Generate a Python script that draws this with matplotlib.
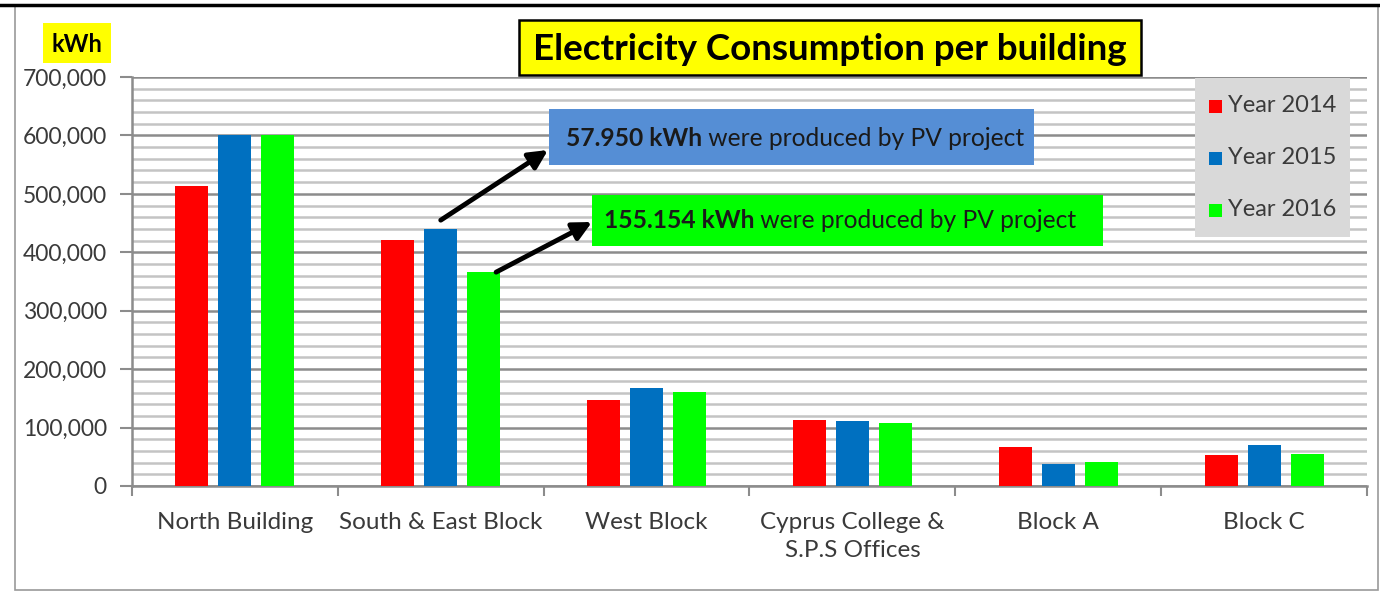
import matplotlib
matplotlib.use("Agg")
import matplotlib.pyplot as plt
from matplotlib.patches import Rectangle
from matplotlib.ticker import MultipleLocator, FuncFormatter
from matplotlib.lines import Line2D
import numpy as np

W, H = 1380, 592
DPI = 100

categories = ["North Building", "South & East Block", "West Block",
              "Cyprus College &\nS.P.S Offices", "Block A", "Block C"]
years = ["Year 2014", "Year 2015", "Year 2016"]
y2014 = [513000, 421000, 147000, 113000, 67000, 53000]
y2015 = [600000, 440000, 168000, 112000, 38000, 71000]
y2016 = [600000, 366000, 161000, 108000, 41000, 55000]
colors = ["#ff0000", "#0070c0", "#00ff00"]

note_2015 = ("57.950 kWh", " were produced by PV project")
note_2016 = ("155.154 kWh", " were produced by PV project")

FONT = "Lato"
plt.rcParams["font.family"] = [FONT, "DejaVu Sans"]
TXT = "#3a3a3a"


def px(x, y):
    # pixel coords (from top-left) -> figure fraction
    return x / W, 1 - y / H


fig = plt.figure(figsize=(W / DPI, H / DPI), dpi=DPI)

# outer chart frame
fig.patches.append(Rectangle(px(15, 590), 1363 / W, 585 / H, transform=fig.transFigure,
                             fill=False, edgecolor="#9a9a9a", linewidth=1.2))
fig.add_artist(Line2D([0, 1], [1 - 5 / H] * 2, transform=fig.transFigure,
                      color="black", linewidth=2.5))

left, bottom = px(132, 486)
ax = fig.add_axes([left, bottom, 1235 / W, 409 / H])

x = np.arange(len(categories))
width = 0.16
step = 0.209
for i, (vals, c) in enumerate(zip([y2014, y2015, y2016], colors)):
    ax.bar(x + (i - 1) * step, vals, width, color=c, zorder=3, label=years[i])

ax.set_xlim(-0.5, len(categories) - 0.5)
ax.set_ylim(0, 700000)
ax.yaxis.set_major_locator(MultipleLocator(100000))
ax.yaxis.set_minor_locator(MultipleLocator(20000))
ax.yaxis.set_major_formatter(FuncFormatter(lambda v, p: f"{int(v):,}"))
ax.grid(which="major", axis="y", color="#8c8c8c", linewidth=1.8, zorder=1)
ax.grid(which="minor", axis="y", color="#c4c4c4", linewidth=1.8, zorder=1)
ax.set_axisbelow(True)

ax.set_xticks(np.arange(-0.5, len(categories) + 0.5, 1))
ax.set_xticklabels([])
ax.set_xticks(x, minor=True)
ax.set_xticklabels(categories, minor=True, fontsize=17.5, color=TXT, linespacing=1.45)
ax.tick_params(axis="x", which="major", length=7, width=1.5, color="#8c8c8c", direction="out")
ax.tick_params(axis="x", which="minor", length=0, pad=18.5)
ax.tick_params(axis="y", which="major", length=9, width=1.5, color="#8c8c8c",
               labelsize=16.5, labelcolor=TXT, pad=9)
ax.tick_params(axis="y", which="minor", length=0)
for s in ["top", "right"]:
    ax.spines[s].set_visible(False)
for s in ["left", "bottom"]:
    ax.spines[s].set_color("#8c8c8c")
    ax.spines[s].set_linewidth(1.8)

# title box
fig.patches.append(Rectangle(px(519, 75), 622 / W, 55 / H, transform=fig.transFigure,
                             facecolor="#ffff00", edgecolor="black", linewidth=1.8))
fig.text(*px(830, 49), "Electricity Consumption per building", fontsize=26.5,
         fontweight="bold", ha="center", va="center", color="black")

# kWh label
fig.patches.append(Rectangle(px(43, 63), 68 / W, 40 / H, transform=fig.transFigure,
                             facecolor="#ffff00", edgecolor="none"))
fig.text(*px(77, 44), "kWh", fontsize=17, fontweight="bold", ha="center", va="center")

# legend box
fig.patches.append(Rectangle(px(1195, 237), 155 / W, 159 / H, transform=fig.transFigure,
                             facecolor="#d9d9d9", edgecolor="none", zorder=4))
for i, (lab, c) in enumerate(zip(years, colors)):
    yy = 106 + i * 52
    fig.patches.append(Rectangle(px(1209, yy + 7), 13 / W, 13 / H, transform=fig.transFigure,
                                 facecolor=c, edgecolor="none", zorder=5))
    fig.text(*px(1228, yy), lab, fontsize=17, ha="left", va="center", color=TXT,
             zorder=5)

# PV annotation boxes
fig.patches.append(Rectangle(px(549, 165), 485 / W, 56 / H, transform=fig.transFigure,
                             facecolor="#558ed5", edgecolor="none", zorder=4))
fig.patches.append(Rectangle(px(592, 246), 511 / W, 51 / H, transform=fig.transFigure,
                             facecolor="#00ff00", edgecolor="none", zorder=4))

renderer = fig.canvas.get_renderer()


def two_part(xp, yp, parts):
    t1 = fig.text(*px(xp, yp), parts[0], fontsize=17.7, fontweight="bold",
                  ha="left", va="center", color="#1a1a1a", zorder=6)
    bb = t1.get_window_extent(renderer)
    fig.text(bb.x1 / W, 1 - yp / H, parts[1], fontsize=17.7, ha="left", va="center",
             color="#1a1a1a", zorder=6)


two_part(566, 139, note_2015)
two_part(604, 221, note_2016)

# arrows from South & East bars to the notes
arrow_kw = dict(arrowstyle="-|>", lw=3.5, color="black", mutation_scale=28,
                shrinkA=0, shrinkB=0)
ax.annotate("", xy=px(548, 150), xycoords="figure fraction",
            xytext=(1, y2015[1] + 15000), textcoords="data", arrowprops=arrow_kw,
            zorder=7, annotation_clip=False)
ax.annotate("", xy=px(592, 222), xycoords="figure fraction",
            xytext=(1 + step + 0.06, y2016[1]), textcoords="data", arrowprops=arrow_kw,
            zorder=7, annotation_clip=False)

fig.savefig("out.png", dpi=DPI)
